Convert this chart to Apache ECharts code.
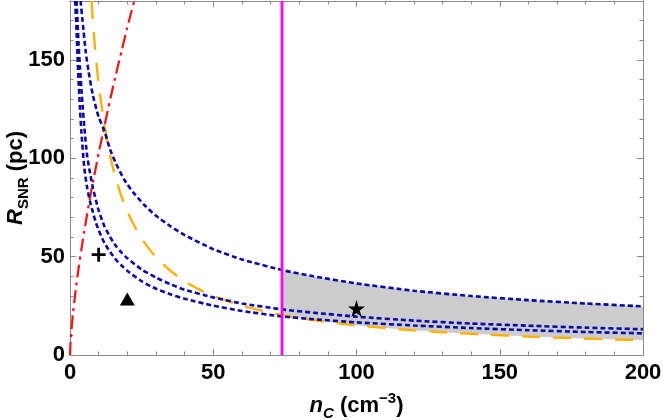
<!DOCTYPE html>
<html><head><meta charset="utf-8">
<script src="https://cdn.jsdelivr.net/npm/echarts@6/dist/echarts.min.js"></script>
<style>html,body{margin:0;padding:0;background:#fff}#c{width:664px;height:420px}</style>
</head><body><div id="c"></div>
<script>
// ---- data ----
const xMajorTicks = [0, 50, 100, 150, 200];
const yMajorTicks = [0, 50, 100, 150];
const xRange = [0, 200];
const yRange = [0, 180];

const blueTopN = [3.7, 4.5, 5.5, 6.5, 8, 10, 12, 14, 16, 19, 22, 26, 30, 35, 40, 50, 60, 74, 85, 100, 120, 140, 160, 180, 200];
const blueTopR = [180, 168, 154, 144, 132, 121, 114, 104.5, 97.5, 89, 82.8, 76.2, 70.8, 65.5, 61, 53.8, 48.6, 43.2, 40, 36.4, 32.7, 30, 27.9, 26.2, 24.7];

const blueMidN = [2.3, 3, 3.5, 4, 4.5, 5, 6, 7, 8, 9, 10, 12, 14, 16, 18, 20, 25, 30, 35, 40, 50, 60, 74, 85, 100, 120, 140, 160, 180, 200];
const blueMidR = [180, 158, 146, 135, 125, 116, 101, 92.5, 85, 79, 73.5, 65.5, 60, 55.5, 52, 49.2, 43.5, 39.4, 36, 33.2, 29.3, 26.2, 23.2, 21.5, 19.5, 17.5, 16, 14.9, 13.9, 13.1];

const blueBotN = [1.8, 2.2, 2.6, 3, 3.5, 4, 5, 6, 7, 8, 9, 10, 12, 14, 16, 18, 20, 25, 30, 35, 40, 50, 60, 74, 85, 100, 120, 140, 160, 180, 200];
const blueBotR = [180, 168, 153, 139, 125, 113, 95, 85, 78, 72.5, 67.5, 63.5, 57, 52.5, 48.5, 45.5, 42.8, 37.5, 33.7, 30.9, 28.6, 25.1, 22.4, 19.6, 18.2, 16.6, 15, 13.7, 12.6, 11.7, 11];

const orangeN = [7.5, 8.5, 10, 12, 14, 16, 18, 20, 24, 28, 32, 36, 40, 45, 50, 60, 70, 74, 80, 90, 100, 115, 130, 145, 160, 175, 190, 200];
const orangeR = [180, 160, 138, 117, 101.5, 89.5, 80.5, 73, 61.5, 53.2, 46.8, 41.7, 37.5, 33.4, 30.1, 25.1, 21.5, 20.3, 18.8, 16.8, 15.1, 13.1, 11.6, 10.4, 9.4, 8.6, 7.9, 7.55];

const redN = [0, 0.2, 0.5, 1, 2, 3, 4, 5, 6, 7, 8, 10, 12, 14, 16, 18, 20, 22.5];
const redR = [0, 6.6, 12.6, 20.5, 33.3, 44.2, 54, 63, 71.8, 80, 87.8, 102.5, 116.4, 129.8, 142.6, 154.6, 166.6, 180.5];

const cutoffN = 74;
const plusPoint = [10, 51];
const trianglePoint = [20, 28.5];
const starPoint = [100, 23.7];

// ---- helpers ----
const zip = (a, b) => a.map((v, i) => [v, b[i]]);
const band = zip(blueTopN, blueTopR).filter(p => p[0] >= cutoffN)
  .concat(zip(orangeN, orangeR).filter(p => p[0] >= cutoffN).reverse());

const FONT = '"Liberation Sans", Arial, Helvetica, sans-serif';
const frameColor = '#8a8a8a';

function xAxisDef(pos, interval, tickLen, labels) {
  return {
    type: 'value', position: pos, min: xRange[0], max: xRange[1], interval: interval,
    axisLine: { show: true, onZero: false, lineStyle: { color: frameColor, width: 1 } },
    axisTick: { show: true, inside: true, length: tickLen, lineStyle: { color: frameColor, width: 1 } },
    axisLabel: { show: labels, margin: 7, color: '#000', fontSize: 22, fontWeight: 'bold', fontFamily: FONT },
    splitLine: { show: false }
  };
}
function yAxisDef(pos, interval, tickLen, labels) {
  return {
    type: 'value', position: pos, min: yRange[0], max: yRange[1], interval: interval,
    axisLine: { show: true, onZero: false, lineStyle: { color: frameColor, width: 1 } },
    axisTick: { show: true, inside: true, length: tickLen, lineStyle: { color: frameColor, width: 1 } },
    axisLabel: { show: labels, margin: 5, color: '#000', fontSize: 22, fontWeight: 'bold', fontFamily: FONT,
      formatter: v => (yMajorTicks.indexOf(v) >= 0 ? String(v) : '') },
    splitLine: { show: false }
  };
}

const xAxes = [
  xAxisDef('bottom', 50, 6, true),
  xAxisDef('bottom', 10, 3.5, false),
  xAxisDef('top', 50, 6, false),
  xAxisDef('top', 10, 3.5, false)
];
xAxes[0].name = '{ni|n}{sub|C}{t| (cm}{sup|−3}{t|)}';
xAxes[0].nameLocation = 'middle';
xAxes[0].nameGap = 36;
xAxes[0].nameMoveOverlap = false;
xAxes[0].nameTextStyle = {
  fontFamily: FONT, fontWeight: 'bold', color: '#000',
  rich: {
    ni: { fontSize: 22, fontStyle: 'italic', fontWeight: 'bold', fontFamily: FONT, lineHeight: 30, verticalAlign: 'middle' },
    t: { fontSize: 22, fontWeight: 'bold', fontFamily: FONT, lineHeight: 30, verticalAlign: 'middle' },
    sub: { fontSize: 15, fontStyle: 'italic', fontWeight: 'bold', fontFamily: FONT, lineHeight: 15, verticalAlign: 'bottom' },
    sup: { fontSize: 15, fontWeight: 'bold', fontFamily: FONT, lineHeight: 15, verticalAlign: 'top' }
  }
};

const yAxes = [
  yAxisDef('left', 50, 6, true),
  yAxisDef('left', 10, 3.5, false),
  yAxisDef('right', 50, 6, false),
  yAxisDef('right', 10, 3.5, false)
];
yAxes[0].name = '{ri|R}{sub|SNR}{t| (pc)}';
yAxes[0].nameLocation = 'middle';
yAxes[0].nameRotate = 90;
yAxes[0].nameGap = 39;
yAxes[0].nameMoveOverlap = false;
yAxes[0].nameTextStyle = {
  fontFamily: FONT, fontWeight: 'bold', color: '#000',
  rich: {
    ri: { fontSize: 22, fontStyle: 'italic', fontWeight: 'bold', fontFamily: FONT, lineHeight: 30, verticalAlign: 'middle' },
    t: { fontSize: 22, fontWeight: 'bold', fontFamily: FONT, lineHeight: 30, verticalAlign: 'middle' },
    sub: { fontSize: 15, fontWeight: 'bold', fontFamily: FONT, lineHeight: 15, verticalAlign: 'bottom' }
  }
};

const blueColor = '#0a0aa8';
const blueStyle = { color: blueColor, width: 2.6, type: [5, 3] };

function lineSeries(n, r, style, z) {
  return { type: 'line', data: zip(n, r), showSymbol: false, smooth: 0.2,
    lineStyle: style, itemStyle: { color: style.color }, z: z, silent: true, clip: true, animation: false };
}

const option = {
  animation: false,
  grid: { left: 70, right: 21, top: 1, bottom: 65, containLabel: false, outerBoundsMode: 'none' },
  xAxis: xAxes,
  yAxis: yAxes,
  series: [
    {
      type: 'custom', data: [[cutoffN, 0]], z: 1, clip: true, silent: true,
      renderItem: (params, api) => ({
        type: 'polygon',
        shape: { points: band.map(p => api.coord(p)) },
        style: { fill: '#cccccc' }
      })
    },
    lineSeries(orangeN, orangeR, { color: '#ffb000', width: 2.4, type: [18, 13] }, 3),
    lineSeries(redN, redR, { color: '#ff1010', width: 2.2, type: [13, 5, 3, 5] }, 3),
    lineSeries(blueTopN, blueTopR, blueStyle, 4),
    lineSeries(blueMidN, blueMidR, blueStyle, 4),
    lineSeries(blueBotN, blueBotR, blueStyle, 4),
    { type: 'line', data: [[cutoffN, yRange[0]], [cutoffN, yRange[1]]], showSymbol: false,
      lineStyle: { color: '#ff00ff', width: 2.8 }, z: 5, silent: true },
    { type: 'scatter', data: [plusPoint], symbol: 'path://M5.6,0 H8.4 V5.6 H14 V8.4 H8.4 V14 H5.6 V8.4 H0 V5.6 H5.6 Z',
      symbolSize: 14, itemStyle: { color: '#000', opacity: 1 }, z: 6, silent: true },
    { type: 'scatter', data: [trianglePoint], symbol: 'triangle', symbolSize: [15, 13],
      itemStyle: { color: '#000', opacity: 1 }, z: 6, silent: true },
    { type: 'scatter', data: [starPoint], symbol: 'path://M50,0 L61,35 L98,35 L68,57 L79,91 L50,70 L21,91 L32,57 L2,35 L39,35 Z',
      symbolSize: 17, itemStyle: { color: '#000', opacity: 1 }, z: 6, silent: true }
  ]
};

const chart = echarts.init(document.getElementById('c'), null, { renderer: 'canvas' });
chart.setOption(option);
</script>
</body></html>
